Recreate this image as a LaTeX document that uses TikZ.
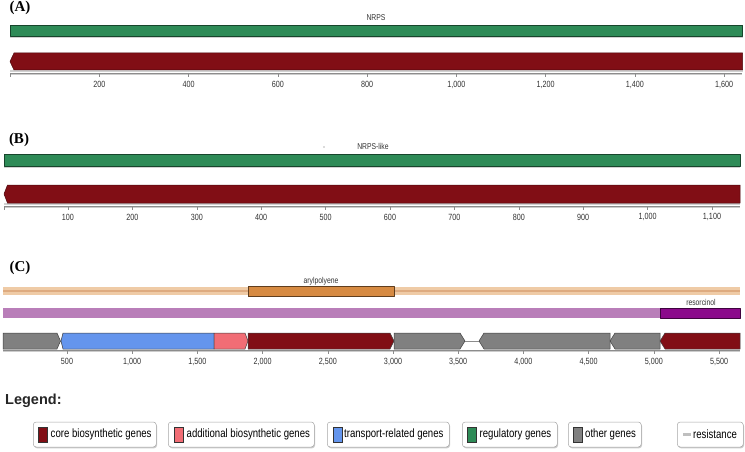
\documentclass[tikz,border=0pt]{standalone}
\usepackage{fontspec}
\setmainfont{Liberation Sans}
\newfontfamily\narrowfont[FakeStretch=0.8]{Liberation Sans}
\newfontfamily\panelfont{Liberation Serif}
\usetikzlibrary{shadows}
\definecolor{core}{HTML}{810E15}
\definecolor{addl}{HTML}{F16D75}
\definecolor{transp}{HTML}{6495ED}
\definecolor{regul}{HTML}{2E8B57}
\definecolor{other}{HTML}{808080}
\definecolor{tanbar}{HTML}{EFCBA6}
\definecolor{tanline}{HTML}{DEAB80}
\definecolor{aryl}{HTML}{D68A42}
\definecolor{violetl}{HTML}{B97EB9}
\definecolor{resor}{HTML}{8B0A8B}
\definecolor{axisgray}{HTML}{8C8C8C}
\tikzset{
  genebox/.style={draw=black!75, line width=0.5pt, line join=round},
  barshadow/.style={fill=black!18, draw=none},
  axisline/.style={draw=axisgray, line width=0.8pt},
  tickline/.style={draw=axisgray, line width=0.6pt},
  ticklab/.style={font=\narrowfont\fontsize{9}{10}\selectfont, text=black!80, inner sep=0pt},
  smalllab/.style={font=\narrowfont\fontsize{8.5}{10}\selectfont, text=black!80, inner sep=0pt},
  panellab/.style={font=\panelfont\bfseries\fontsize{15}{16}\selectfont, inner sep=0pt},
  legbox/.style={draw=black!35, fill=white, rounded corners=3pt, line width=0.5pt,
    drop shadow={shadow xshift=0.8pt, shadow yshift=-1.3pt, fill=black!40, opacity=0.5},
    minimum height=25pt, inner sep=0pt, anchor=west},
  legswatch/.style={draw=black!80, line width=0.5pt, minimum width=9pt, minimum height=15pt, inner sep=0pt, anchor=west},
  legtext/.style={font=\narrowfont\fontsize{12}{13}\selectfont, inner sep=0pt, anchor=west}
}
\begin{document}
\begin{tikzpicture}[x=1pt,y=-1pt]
\useasboundingbox[fill=white] (0,0) rectangle (745,452);

% ---------------- Panel A ----------------
\node[panellab] (labA) at (20,8) {(A)};
\node[smalllab] (nrps) at (376,18) {NRPS};
\fill[barshadow] (10,36) rectangle (742.5,38);
\path[genebox, fill=regul, draw=regul!50!black] (10,25) rectangle (742.5,36);
\fill[barshadow] (10,70) rectangle (742.5,72);
\path[genebox, fill=core, draw=core!60!black] (14,53) -- (742.5,53) -- (742.5,70) -- (14,70) -- (10,61.5) -- cycle;
\draw[black!20, line width=0.8pt] (10,74) -- (742,74);
\draw[axisline] (10,73) -- (742,73);
\draw[tickline] (10,73) -- (10,77);
\foreach \v/\lab in {200/200,400/400,600/600,800/800,1000/{1,000},1200/{1,200},1400/{1,400},1600/{1,600}}{
  \draw[tickline] (10+\v*0.4464,73) -- ++(0,4);
  \node[ticklab] at (10+\v*0.4464,84.5) {\lab};
}

% ---------------- Panel B ----------------
\node[panellab] (labB) at (19,140) {(B)};
\node[smalllab] (nrpslike) at (373,146) {NRPS-like};
\fill[black!60] (324,147) circle (0.6);
\fill[barshadow] (4,166) rectangle (740,168);
\path[genebox, fill=regul, draw=regul!50!black] (4,154) rectangle (740,166);
\fill[barshadow] (4,203) rectangle (740,205);
\path[genebox, fill=core, draw=core!60!black] (7.5,185) -- (740,185) -- (740,203) -- (7.5,203) -- (4,194) -- cycle;
\draw[black!20, line width=0.8pt] (4,207) -- (740,207);
\draw[axisline] (4,206) -- (740,206);
\draw[tickline] (4,206) -- (4,210);
\foreach \v/\lab in {100/100,200/200,300/300,400/400,500/500,600/600,700/700,800/800,900/900,1000/{1,000},1100/{1,100}}{
  \draw[tickline] (3.6+\v*0.644,206) -- ++(0,4);
  \node[ticklab] at (3.6+\v*0.644,217) {\lab};
}

% ---------------- Panel C ----------------
\node[panellab] (labC) at (20,268) {(C)};
% protocluster bars
\fill[tanbar] (3,287) rectangle (740,295);
\draw[tanline, line width=1.2pt] (3,291) -- (740,291);
\path[genebox, fill=aryl, draw=aryl!45!black] (248,286) rectangle (394,296.5);
\node[smalllab] (aryllab) at (321,281) {arylpolyene};
\fill[violetl] (3,308) rectangle (660,318);
\path[genebox, fill=resor, draw=resor!45!black] (660,308) rectangle (740,318);
\node[smalllab] (resorlab) at (701,302) {resorcinol};
% backbone
\draw[black!45, line width=0.6pt] (3,341) -- (740,341);
% genes
\path[genebox, fill=other] (3,333) -- (57,333) -- (60.5,341) -- (57,349) -- (3,349) -- cycle;
\path[genebox, fill=transp] (63,333) -- (214,333) -- (214,349) -- (63,349) -- (61,341) -- cycle;
\path[genebox, fill=addl] (214,333) -- (245,333) -- (248,341) -- (245,349) -- (214,349) -- cycle;
\path[genebox, fill=core] (248,333) -- (390,333) -- (394,341) -- (390,349) -- (248,349) -- cycle;
\path[genebox, fill=other] (394,333) -- (460,333) -- (465,341) -- (460,349) -- (394,349) -- cycle;
\path[genebox, fill=other] (484,333) -- (610,333) -- (610,349) -- (484,349) -- (479,341) -- cycle;
\path[genebox, fill=other] (615,333) -- (660,333) -- (660,349) -- (615,349) -- (610,341) -- cycle;
\path[genebox, fill=core] (665,333) -- (740,333) -- (740,349) -- (665,349) -- (660,341) -- cycle;
\draw[black!20, line width=0.8pt] (3,351) -- (740,351);
\draw[axisline] (3,350) -- (740,350);
\foreach \v/\lab in {500/500,1000/{1,000},1500/{1,500},2000/{2,000},2500/{2,500},3000/{3,000},3500/{3,500},4000/{4,000},4500/{4,500},5000/{5,000},5500/{5,500}}{
  \draw[tickline] (1.8+\v*0.1304,350) -- ++(0,4);
  \node[ticklab] at (1.8+\v*0.1304,361.5) {\lab};
}

% ---------------- Legend ----------------
\node[font=\bfseries\fontsize{14.5}{16}\selectfont, inner sep=0pt, anchor=west, text=black!85] (legend) at (5,401) {Legend:};

\node[legbox, minimum width=123pt] (b1) at (33,434.5) {};
\node[legswatch, fill=core] (s1) at (38,434.5) {};
\node[legtext] (t1) at (50.5,434.5) {core biosynthetic genes};

\node[legbox, minimum width=146pt] (b2) at (168,434.5) {};
\node[legswatch, fill=addl] (s2) at (173.5,434.5) {};
\node[legtext] (t2) at (186.5,434.5) {additional biosynthetic genes};

\node[legbox, minimum width=122pt] (b3) at (327,434.5) {};
\node[legswatch, fill=transp] (s3) at (332.5,434.5) {};
\node[legtext] (t3) at (344,434.5) {transport-related genes};

\node[legbox, minimum width=95pt] (b4) at (462,434.5) {};
\node[legswatch, fill=regul] (s4) at (467,434.5) {};
\node[legtext] (t4) at (479.5,434.5) {regulatory genes};

\node[legbox, minimum width=73pt] (b5) at (568,434.5) {};
\node[legswatch, fill=other] (s5) at (572.5,434.5) {};
\node[legtext] (t5) at (585,434.5) {other genes};

\node[legbox, minimum width=66pt] (b6) at (677,434.5) {};
\node[fill=black!25, inner sep=0pt, minimum width=8pt, minimum height=3pt, anchor=west] (s6) at (683,434.5) {};
\node[legtext] (t6) at (693,434.5) {resistance};
\end{tikzpicture}
\end{document}
